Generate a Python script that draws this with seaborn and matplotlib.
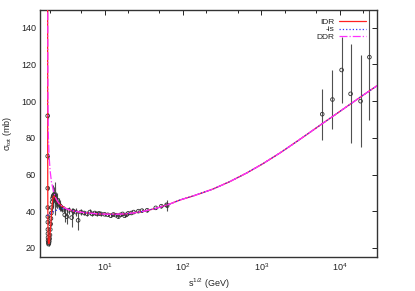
import matplotlib
matplotlib.use("Agg")
import matplotlib.pyplot as plt
import seaborn as sns
import pandas as pd
from matplotlib.ticker import LogLocator, FixedLocator, NullFormatter

sns.set_style("white")
plt.rcParams['font.family'] = ['Liberation Sans', 'DejaVu Sans']
plt.rcParams['mathtext.fontset'] = 'custom'
plt.rcParams['mathtext.rm'] = 'Liberation Sans'
plt.rcParams['mathtext.it'] = 'Liberation Sans'

# fit curves: sqrt(s) in GeV, sigma_tot in mb
tail_s = [4.0, 5.0, 6.5, 8.5, 11, 14, 18, 24, 32, 45, 65, 92, 140, 243, 400, 650,
          1050, 1740, 3000, 6000, 12400, 20000, 30000]
tail_sig = [40.1, 39.4, 38.9, 38.5, 38.3, 38.3, 38.5, 39.1, 40.0, 41.5, 43.6, 46.1,
            48.5, 52.1, 56.2, 60.8, 65.9, 71.8, 78.7, 87.7, 97.1, 103.3, 108.4]

idr_s = [1.877, 1.878, 1.879, 1.881, 1.884, 1.888, 1.895, 1.905, 1.92, 1.94, 1.96,
         1.98, 2.0, 2.03, 2.06, 2.1, 2.14, 2.18, 2.22, 2.27, 2.33, 2.4, 2.5, 2.65,
         2.85, 3.1, 3.5] + tail_s
idr_sig = [160, 125, 100, 75, 55, 42, 32, 26, 23, 22.3, 22.5, 23.5, 25.5, 29, 33,
           38.5, 43, 46.5, 48, 48.3, 47.5, 46.5, 45.3, 44, 42.8, 41.8, 40.8] + tail_sig

is_s = [1.877, 1.9, 1.95, 2.0, 2.1, 2.2, 2.35, 2.5, 2.7, 3.0, 3.5] + tail_s
is_sig = [37.5, 38, 38.5, 38.8, 39.2, 39.6, 40.2, 40.8, 41.3, 41.5, 41.0] + tail_sig

ddr_s = [1.885, 1.89, 1.9, 1.92, 1.96, 2.02, 2.1, 2.2, 2.3, 2.4, 2.5, 2.65, 2.85,
         3.1, 3.5] + tail_s
ddr_sig = [160, 120, 95, 80, 70, 62, 56, 52, 49, 47, 45.5, 44, 42.8, 41.8, 40.8] + tail_sig

# measured points
data_s = [1.879, 1.880, 1.882, 1.884, 1.886, 1.888, 1.89, 1.893, 1.897, 1.90, 1.91,
          1.93, 1.95, 1.97, 1.99, 2.01, 2.03, 2.05, 2.07, 2.09, 2.11, 2.14, 2.17,
          2.2, 2.23, 2.26, 2.3, 2.35, 2.4, 2.45, 2.5, 2.6, 2.7, 2.8, 2.9, 3.0, 3.1,
          3.3, 3.5, 3.8, 4.0, 4.3, 4.6, 5.0, 5.5, 6.0, 6.5, 7.0, 7.5, 8.0, 8.5, 9.0,
          10, 11, 12, 13, 14, 15, 16, 17, 18, 19, 20, 22, 23.5, 27, 30, 35, 45, 53,
          62, 63, 6000, 8100, 10600, 13800, 18500, 24000]
data_sig = [92, 70, 52.5, 42, 37, 34, 30, 27.7, 25.6, 24, 23, 22, 22.5, 23.5, 25,
            27, 30, 33, 36, 39, 42, 45, 47, 48, 48.5, 49, 47, 48, 46.5, 45, 46, 44,
            43, 42, 41.5, 41, 38, 37, 40.5, 36.5, 40, 39.5, 35, 39.5, 39, 38.5, 39.5,
            38.5, 39, 38.5, 38.8, 38.5, 38.3, 38.0, 37.5, 38.2, 37.8, 37, 38, 38.5,
            37.5, 38, 38.8, 39, 39.5, 40, 40.3, 40.5, 41.8, 42.7, 43.5, 43, 92.9,
            100.9, 117, 104, 100, 124]
data_err = [1.5, 1.5, 1, 1, 1, 1, 1, 1, 1, 1, 1, 1, 1, 1, 1, 1, 1, 1, 1.5, 1.5, 2,
            3, 4, 5, 6, 4, 9, 5, 4, 3, 4, 3, 3, 2, 2, 2, 4, 4, 2, 5, 2, 2, 5, 1.5, 1,
            1, 1.5, 1, 1, 1, 1, 1, 0.7, 0.7, 0.7, 0.7, 0.7, 0.7, 0.7, 0.7, 0.7, 0.7,
            0.7, 0.7, 0.7, 0.7, 0.7, 0.7, 0.7, 0.7, 1.5, 3, 14, 16, 18, 27, 25, 34]

fig = plt.figure(figsize=(4.15, 2.91), dpi=100)
ax = fig.add_axes([40 / 415, 1 - 257 / 291, 337 / 415, 247.5 / 291])

ax.errorbar(data_s, data_sig, yerr=data_err, fmt='none', ecolor='#505050',
            elinewidth=0.8, capsize=0, zorder=2)
sns.scatterplot(x=data_s, y=data_sig, ax=ax, marker='o', s=7, facecolor='none',
                edgecolor='#303030', linewidth=0.6, zorder=3)

curves = pd.concat([
    pd.DataFrame({'s': idr_s, 'sig': idr_sig, 'model': 'IDR'}),
    pd.DataFrame({'s': is_s, 'sig': is_sig, 'model': '-is'}),
    pd.DataFrame({'s': ddr_s, 'sig': ddr_sig, 'model': 'DDR'}),
])
styles = {'IDR': ('#ff2020', '-'), '-is': ('#3030ff', ':'), 'DDR': ('#ff30ff', '-.')}
for name in ['IDR', '-is', 'DDR']:
    sub = curves[curves['model'] == name]
    col, ls = styles[name]
    sns.lineplot(data=sub, x='s', y='sig', ax=ax, color=col, linestyle=ls,
                 linewidth=0.9, label=name, sort=False, estimator=None, zorder=4)

ax.set_xscale('log')
ax.set_xlim(1.5, 30000)
ax.set_ylim(15, 150)
ax.set_yticks([20, 40, 60, 80, 100, 120, 140])
ax.xaxis.set_major_locator(FixedLocator([10, 100, 1000, 10000]))
ax.xaxis.set_minor_locator(LogLocator(base=10, subs=(2.0, 5.0), numticks=20))
ax.xaxis.set_minor_formatter(NullFormatter())
ax.set_xticklabels([r'$10^{1}$', r'$10^{2}$', r'$10^{3}$', r'$10^{4}$'])

ax.tick_params(which='both', direction='in', top=True, right=True, labelsize=6.5,
               pad=3, width=0.6, colors='black', labelcolor='#222222')
ax.tick_params(which='major', length=3.5)
ax.tick_params(which='minor', length=2)
for sp in ax.spines.values():
    sp.set_linewidth(1.0)
    sp.set_color('#333333')

ax.set_xlabel(r's$^{1/2}$ (GeV)', fontsize=6.5, labelpad=3)
ax.set_ylabel(r'σ$_{\rm tot}$ (mb)', fontsize=6.5, labelpad=5)

ax.legend(loc='upper right', frameon=False, markerfirst=False, fontsize=6,
          handlelength=3.3, handletextpad=0.5, labelspacing=0.0,
          borderaxespad=0.3, bbox_to_anchor=(0.985, 0.99))

fig.savefig('out.png', dpi=100)
